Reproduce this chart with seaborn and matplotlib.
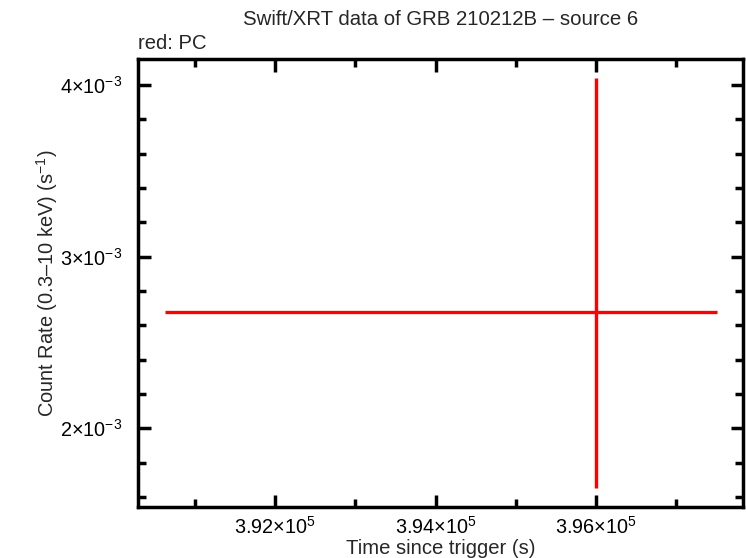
import numpy as np
import seaborn as sns
import matplotlib.pyplot as plt
from matplotlib.ticker import FixedLocator, FuncFormatter, MultipleLocator

# one PC-mode bin
tempo = [3.96e5]
tempo_menos = [5377.0]
tempo_mais = [1511.0]
taxa = [2.679e-3]
taxa_menos = [1.028e-3]
taxa_mais = [1.364e-3]

xticks = [3.92e5, 3.94e5, 3.96e5]
yticks = [2e-3, 3e-3, 4e-3]

sns.set_style('ticks')
plt.rcParams['font.family'] = ['Liberation Sans', 'DejaVu Sans']
plt.rcParams['mathtext.fontset'] = 'custom'
plt.rcParams['mathtext.rm'] = 'Liberation Sans'
plt.rcParams['mathtext.it'] = 'Liberation Sans:italic'
plt.rcParams['mathtext.default'] = 'regular'

fig = plt.figure(figsize=(7.46, 5.58), dpi=100)
ax = fig.add_axes([0.185, 0.091, 0.8106, 0.8038])

ax.errorbar(tempo, taxa,
            xerr=[tempo_menos, tempo_mais],
            yerr=[taxa_menos, taxa_mais],
            fmt='none', ecolor='#ff0000', elinewidth=2.4, capsize=0)

ax.set_xlim(3.90285e5, 3.97835e5)
ax.set_ylim(1.540e-3, 4.153e-3)


def sci(v, pos):
    exp = int(np.floor(np.log10(abs(v))))
    mant = v / 10 ** exp
    txt = f'{mant:.2f}'.rstrip('0').rstrip('.')
    return rf'${txt}{{\times}}10^{{{exp}}}$'


ax.xaxis.set_major_locator(FixedLocator(xticks))
ax.xaxis.set_minor_locator(MultipleLocator(1000))
ax.yaxis.set_major_locator(FixedLocator(yticks))
ax.yaxis.set_minor_locator(MultipleLocator(0.2e-3))
ax.xaxis.set_major_formatter(FuncFormatter(sci))
ax.yaxis.set_major_formatter(FuncFormatter(sci))

ax.tick_params(which='both', direction='in', top=True, right=True,
               width=2.5, labelsize=14.3, colors='black')
ax.tick_params(axis='x', which='major', length=9, pad=6)
ax.tick_params(axis='y', which='major', length=9, pad=11)
ax.tick_params(which='minor', length=6)
for s in ax.spines.values():
    s.set_linewidth(2.5)
    s.set_color('black')

ax.set_xlabel('Time since trigger (s)', fontsize=14.6, labelpad=1)
ax.set_ylabel('Count Rate (0.3\u201310 keV) (s$^{-1}$)', fontsize=14.4, labelpad=0.5)
ax.set_title('Swift/XRT data of GRB 210212B \u2013 source 6', fontsize=14.7, pad=24)
ax.text(0.0, 1.012, 'red: PC', transform=ax.transAxes, fontsize=14.6,
        ha='left', va='bottom')

fig.savefig('out.png', dpi=100)
